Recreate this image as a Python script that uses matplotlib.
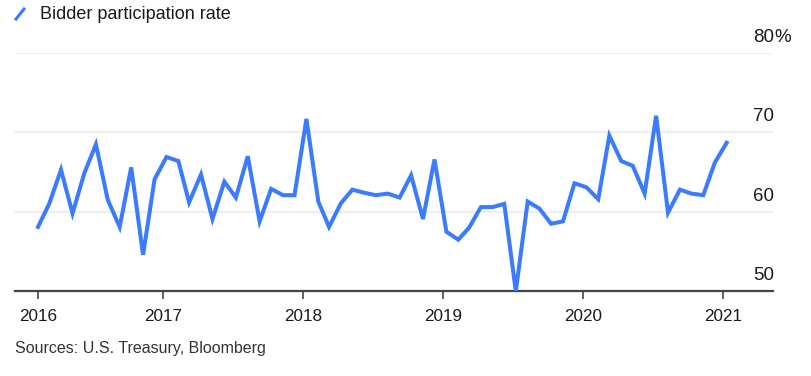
import numpy as np
import pandas as pd
import matplotlib.pyplot as plt
from matplotlib.lines import Line2D

plt.rcParams['font.family'] = ['Liberation Sans', 'DejaVu Sans']

# monthly auctions, Feb 2016 - Jan 2021
dates = pd.date_range('2016-02-01', periods=60, freq='MS') + pd.Timedelta(days=9)
rate = [58.1, 61.0, 65.3, 59.8, 64.9, 68.5, 61.5, 58.1, 65.6, 54.6, 64.1,
        66.9, 66.4, 61.2, 64.7, 59.1, 63.8, 61.8, 67.0, 58.8, 62.9, 62.1, 62.1,
        71.7, 61.3, 58.1, 61.1, 62.8, 62.4, 62.1, 62.3, 61.8, 64.6, 59.1, 66.6,
        57.5, 56.5, 58.0, 60.6, 60.6, 61.0, 50.0, 61.3, 60.4, 58.5, 58.8, 63.6,
        63.1, 61.6, 69.6, 66.4, 65.8, 62.3, 72.1, 59.9, 62.8, 62.3, 62.1, 66.2,
        68.7]
tick_dates = [dates[0]] + [pd.Timestamp(f'{y}-01-01') for y in range(2017, 2022)]
tick_labels = ['2016', '2017', '2018', '2019', '2020', '2021']
y_ticks = [50, 60, 70, 80]

blue = '#3b7bff'
W, H = 811, 376
fig = plt.figure(figsize=(W / 100, H / 100), dpi=100)
ax = fig.add_axes([15 / W, 1 - 291.3 / H, (772.7 - 15) / W, (291.3 - 53) / H])

ax.plot(dates, rate, color=blue, lw=2.9, solid_joinstyle='miter', zorder=3)

x0 = pd.Timestamp('2016-01-01') - pd.Timedelta(days=20)
x1 = pd.Timestamp('2021-05-10')
ax.set_xlim(x0, x1)
ax.set_ylim(50, 80)

for s in ['left', 'right', 'top']:
    ax.spines[s].set_visible(False)
ax.spines['bottom'].set_color('#444444')
ax.spines['bottom'].set_linewidth(1.6)

ax.set_xticks(tick_dates)
ax.set_xticklabels(tick_labels)
ax.tick_params(axis='x', length=6, width=1.2, color='#444444', labelsize=12.3,
               labelcolor='#1a1a1a', pad=7)

ax.set_yticks(y_ticks)
ax.tick_params(axis='y', length=0, labelleft=False)
ax.grid(axis='y', color='#ebebeb', lw=1.2, zorder=0)

for v in y_ticks:
    ax.annotate(str(v), xy=(1.002, v), xycoords=('axes fraction', 'data'),
                xytext=(0, 8), textcoords='offset points', ha='right', va='baseline',
                fontsize=13.5, color='#1a1a1a')
ax.annotate('%', xy=(1.002, 80), xycoords=('axes fraction', 'data'),
            xytext=(0, 8), textcoords='offset points', ha='left', va='baseline',
            fontsize=13.5, color='#1a1a1a')

# legend
fig.add_artist(Line2D([16 / W, 24 / W], [1 - 19 / H, 1 - 9 / H], color=blue, lw=2.2))
fig.text(40 / W, 1 - 19 / H, 'Bidder participation rate', fontsize=13,
         color='#1a1a1a', va='baseline', ha='left')

fig.text(15 / W, 1 - 348 / H, 'Sources: U.S. Treasury, Bloomberg', fontsize=11.5,
         color='#333333', va='center', ha='left')

fig.savefig('out.png', dpi=100)
